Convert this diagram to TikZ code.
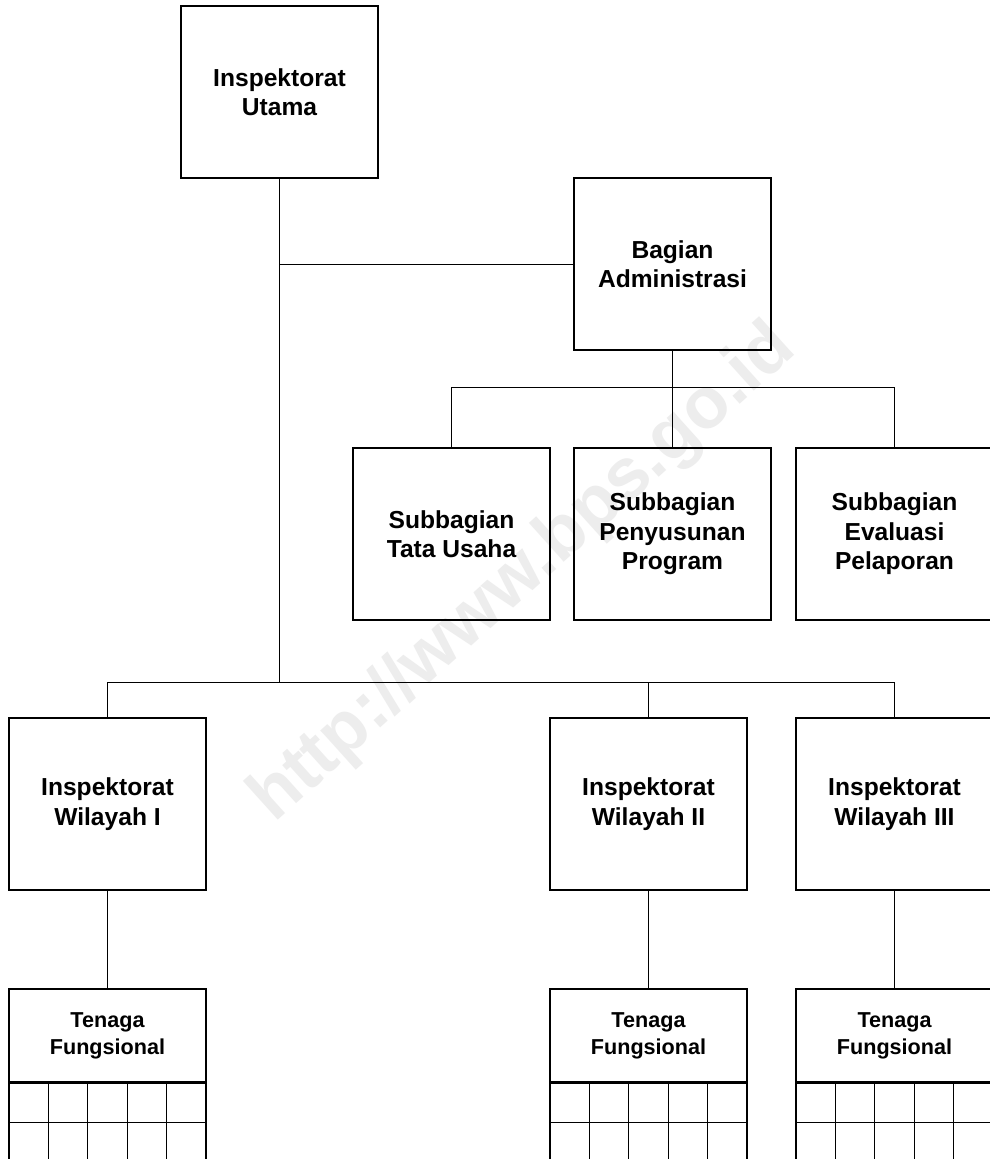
\documentclass[tikz,border=0pt]{standalone}
\usepackage{fontspec}
\setmainfont{Liberation Sans}
\begin{document}
\begin{tikzpicture}[x=1pt,y=-1pt,
  orgbox/.style={draw=black, line width=1.1pt, rectangle, minimum width=197pt, minimum height=172pt,
    inner sep=0pt, align=center, font=\fontsize{24.6}{29.5}\selectfont\bfseries},
  headbox/.style={draw=black, line width=1.1pt, rectangle, minimum width=197pt, minimum height=93pt,
    inner sep=0pt, align=center, font=\fontsize{21.6}{27}\selectfont\bfseries},
  cellbox/.style={draw=black, line width=1.1pt, rectangle, minimum width=39.4pt, minimum height=39pt, inner sep=0pt},
  link/.style={draw=black, line width=1pt}]
\useasboundingbox (0,0) rectangle (990,1159);
\clip (0,0) rectangle (990,1159);
\fill[white] (0,0) rectangle (990,1159);
% watermark
\node[rotate=42, text=black!7, font=\fontsize{72}{78}\selectfont\bfseries, inner sep=0pt] (wm) at (524,574) {http://www.bps.go.id};
% boxes
\node[orgbox] (utama) at (279.5,92) {Inspektorat\\Utama};
\node[orgbox] (bagian) at (672.5,264) {Bagian\\Administrasi};
\node[orgbox] (tata) at (451.5,534) {Subbagian\\Tata Usaha};
\node[orgbox] (pen) at (672.5,534) {Subbagian\\Penyusunan\\Program};
\node[orgbox] (eval) at (894.5,534) {Subbagian\\Evaluasi\\Pelaporan};
\node[orgbox] (w1) at (107.5,804) {Inspektorat\\Wilayah I};
\node[orgbox] (w2) at (648.5,804) {Inspektorat\\Wilayah II};
\node[orgbox] (w3) at (894.5,804) {Inspektorat\\Wilayah III};
\node[headbox] (t1) at (107.5,1035.5) {Tenaga\\Fungsional};
\node[headbox] (t2) at (648.5,1035.5) {Tenaga\\Fungsional};
\node[headbox] (t3) at (894.5,1035.5) {Tenaga\\Fungsional};
% grids
\foreach \t in {t1,t2,t3}{
  \foreach \c in {0,...,4}{
    \foreach \r in {0,1}{
      \node[cellbox, anchor=north west] (\t-\r-\c) at ([xshift=\c*39.4pt, yshift=-\r*39pt]\t.south west) {};
    }
  }
}
% connector buses
\coordinate (lowbus) at (0,682);
\coordinate (subbus) at (0,387);
\draw[link] (utama.south) -- (utama.south |- lowbus);
\draw[link] (bagian.west) -- (bagian.west -| utama.south);
\draw[link] (bagian.south) -- (bagian.south |- subbus);
\draw[link] (tata.north) -- (tata.north |- subbus) -- (eval.north |- subbus) -- (eval.north);
\draw[link] (pen.north) -- (pen.north |- subbus);
\draw[link] (w1.north) -- (w1.north |- lowbus) -- (w3.north |- lowbus) -- (w3.north);
\draw[link] (w2.north) -- (w2.north |- lowbus);
\draw[link] (w1.south) -- (t1.north);
\draw[link] (w2.south) -- (t2.north);
\draw[link] (w3.south) -- (t3.north);
\end{tikzpicture}
\end{document}
